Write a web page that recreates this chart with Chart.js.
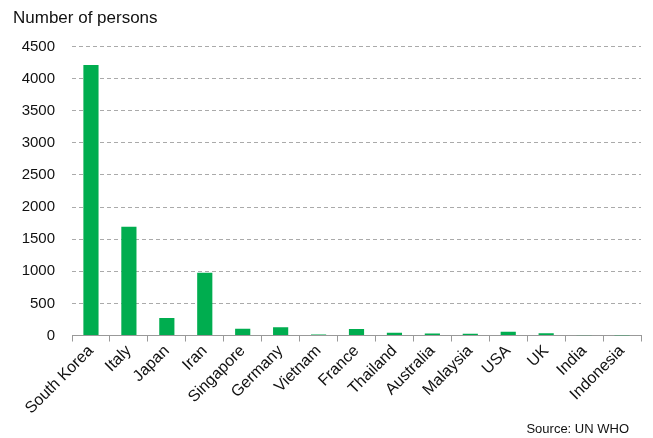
<!DOCTYPE html>
<html lang="en">
<head>
<meta charset="UTF-8">
<title>Number of persons</title>
<script src="https://cdn.jsdelivr.net/npm/chart.js"></script>
<style>
  html, body { margin: 0; padding: 0; background: #fff; }
  #wrap { width: 653px; height: 438px; }
</style>
</head>
<body>
<div id="wrap"><canvas id="myChart"></canvas></div>
<script>
// data
const countries = ['South Korea', 'Italy', 'Japan', 'Iran', 'Singapore', 'Germany', 'Vietnam',
  'France', 'Thailand', 'Australia', 'Malaysia', 'USA', 'UK', 'India', 'Indonesia'];
const persons = [4212, 1694, 274, 978, 106, 129, 16, 100, 43, 33, 29, 60, 36, 5, 2];
const yTicks = [0, 500, 1000, 1500, 2000, 2500, 3000, 3500, 4000, 4500];
const source = 'Source: UN WHO';

const family = '"Liberation Sans", Arial, sans-serif';

// source note under the axis labels, right side
const sourceNote = {
  id: 'sourceNote',
  afterDraw(chart) {
    const ctx = chart.ctx;
    ctx.save();
    ctx.font = '13px ' + family;
    ctx.fillStyle = '#111';
    ctx.textAlign = 'right';
    ctx.textBaseline = 'alphabetic';
    ctx.fillText(source, chart.chartArea.right - 12, 433);
    ctx.restore();
  }
};

new Chart(document.getElementById('myChart'), {
  type: 'bar',
  data: {
    labels: countries,
    datasets: [{
      data: persons,
      backgroundColor: '#00ad4f',
      barPercentage: 0.4,
      categoryPercentage: 1.0
    }]
  },
  options: {
    responsive: true,
    maintainAspectRatio: false,
    animation: false,
    layout: { padding: { left: 13, right: 12, top: 4, bottom: 20 } },
    plugins: {
      legend: { display: false },
      tooltip: { enabled: false },
      title: {
        display: true,
        text: 'Number of persons',
        align: 'start',
        color: '#111',
        font: { family: family, size: 17, weight: 'normal' },
        padding: { top: 4, bottom: 18 }
      }
    },
    scales: {
      x: {
        grid: { drawOnChartArea: false, offset: true, color: '#999', tickLength: 6 },
        border: { color: '#999' },
        ticks: { color: '#111', font: { family: family, size: 16 }, maxRotation: 45, minRotation: 45, autoSkip: false, padding: 0 }
      },
      y: {
        min: 0,
        max: 4500,
        afterBuildTicks: axis => { axis.ticks = yTicks.map(v => ({ value: v })); },
        afterFit: axis => { axis.width = 59; },
        grid: { color: '#aaa', drawTicks: false, lineWidth: 1 },
        border: { display: false, dash: [4, 3] },
        ticks: { color: '#111', font: { family: family, size: 15 }, padding: 17, callback: v => String(v) }
      }
    }
  },
  plugins: [sourceNote]
});
</script>
</body>
</html>
